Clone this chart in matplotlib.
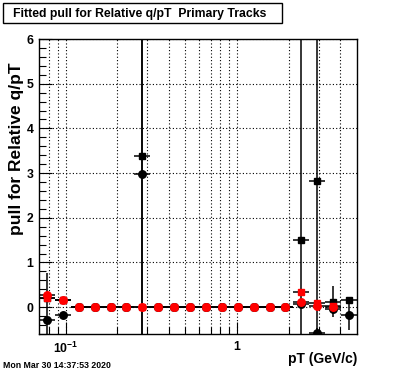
"""
Fitted pull for relative q/pT, primary tracks (ROOT-style canvas).
"""
import numpy as np
import matplotlib
matplotlib.use('Agg')
import matplotlib.pyplot as plt
from matplotlib.patches import Rectangle
from matplotlib.ticker import FixedLocator, FixedFormatter, NullFormatter, MultipleLocator

# log-spaced pT bin edges (GeV/c)
pt_edges = [0.0700, 0.0867, 0.1073, 0.1328, 0.1644, 0.2035, 0.2520, 0.3119,
            0.3862, 0.4780, 0.5918, 0.7326, 0.9066, 1.1223, 1.3894, 1.7200,
            2.1292, 2.6358, 3.2630, 4.0394, 5.0000]

# black squares
blk_sq = [0.20, 0.17, 0.00, 0.00, 0.00, 0.00, 3.39, 0.00, 0.00, 0.00,
          0.00, 0.00, 0.00, 0.00, 0.00, 0.00, 1.50, 2.83, 0.12, 0.17]
blk_sq_err = [0.05, 0.05, 0.02, 0.02, 0.02, 0.02, 20.0, 0.02, 0.02, 0.02,
              0.02, 0.02, 0.02, 0.02, 0.02, 0.03, 20.0, 20.0, 0.35, 0.05]
# black circles
blk_ci = [-0.28, -0.18, 0.00, 0.00, 0.00, 0.00, 2.98, 0.00, 0.00, 0.00,
          0.00, 0.00, 0.00, 0.00, 0.00, 0.00, 0.08, -0.57, -0.05, -0.17]
blk_ci_err = [1.04, 0.05, 0.02, 0.02, 0.02, 0.02, 5.0, 0.02, 0.02, 0.02,
              0.02, 0.02, 0.02, 0.02, 0.02, 0.03, 0.10, 0.10, 0.10, 0.35]
# red squares
red_sq = [0.21, 0.17, 0.00, 0.00, 0.00, 0.00, 0.00, 0.00, 0.00, 0.00,
          0.00, 0.00, 0.00, 0.00, 0.00, 0.00, 0.33, 0.10, 0.02, np.nan]
red_sq_err = [0.05, 0.05, 0.02, 0.02, 0.02, 0.02, 0.02, 0.02, 0.02, 0.02,
              0.02, 0.02, 0.02, 0.02, 0.02, 0.03, 0.05, 0.05, 0.05, 0.0]
# red circles
red_ci = [0.28, 0.17, 0.00, 0.00, 0.00, 0.00, 0.00, 0.00, 0.00, 0.00,
          0.00, 0.00, 0.00, 0.00, 0.00, 0.00, 0.11, 0.02, 0.00, np.nan]
red_ci_err = [0.05, 0.05, 0.02, 0.02, 0.02, 0.02, 0.02, 0.02, 0.02, 0.02,
              0.02, 0.02, 0.02, 0.02, 0.02, 0.03, 0.05, 0.05, 0.05, 0.0]

TITLE = 'Fitted pull for Relative q/pT  Primary Tracks'
DATESTAMP = 'Mon Mar 30 14:37:53 2020'
W, H = 396, 372  # canvas size in pixels


def main():
    plt.rcParams['font.family'] = ['Liberation Sans', 'DejaVu Sans']
    plt.rcParams['font.weight'] = 'bold'
    plt.rcParams['mathtext.fontset'] = 'custom'
    plt.rcParams['mathtext.rm'] = 'Liberation Sans:bold'
    plt.rcParams['mathtext.bf'] = 'Liberation Sans:bold'

    fig = plt.figure(figsize=(W / 100, H / 100), dpi=100)
    ax = fig.add_axes([39 / W, 38 / H, 318 / W, 295 / H])

    edges = np.array(pt_edges)
    centers = np.sqrt(edges[:-1] * edges[1:])
    xerr = [centers - edges[:-1], edges[1:] - centers]

    series = [
        (blk_sq, blk_sq_err, 's', 'black', 5.0),
        (blk_ci, blk_ci_err, 'o', 'black', 5.4),
        (red_sq, red_sq_err, 's', 'red', 5.0),
        (red_ci, red_ci_err, 'o', 'red', 5.4),
    ]
    for i, (y, yerr, marker, color, ms) in enumerate(series):
        ax.errorbar(
            centers, y, xerr=xerr, yerr=yerr,
            fmt=marker, color=color, mec=color, ms=ms,
            ecolor='black', elinewidth=1.1, capsize=0, zorder=3 + i,
        )

    ax.set_xscale('log')
    ax.set_xlim(0.07, 5.0)
    ax.set_ylim(-0.6, 6.0)

    ax.xaxis.set_major_locator(FixedLocator([0.1, 1.0]))
    ax.xaxis.set_major_formatter(FixedFormatter([r'$10^{-1}$', '1']))
    ax.xaxis.set_minor_locator(FixedLocator(
        [0.08, 0.09, 0.2, 0.3, 0.4, 0.5, 0.6, 0.7, 0.8, 0.9, 2, 3, 4]))
    ax.xaxis.set_minor_formatter(NullFormatter())
    ax.yaxis.set_major_locator(MultipleLocator(1))
    ax.yaxis.set_minor_locator(MultipleLocator(0.2))

    ax.tick_params(which='both', direction='in', top=False, right=False,
                   labelsize=8.8, width=0.8)
    ax.tick_params(which='major', length=9)
    ax.tick_params(which='minor', length=5)
    ax.tick_params(axis='x', which='major', pad=5)
    ax.tick_params(axis='y', which='major', pad=4)
    for lab in ax.get_xticklabels() + ax.get_yticklabels():
        lab.set_fontweight('bold')

    grid_kw = dict(color='black', linestyle=(0, (1, 2)), linewidth=0.8)
    ax.grid(True, which='major', axis='both', **grid_kw)
    ax.grid(True, which='minor', axis='x', **grid_kw)
    ax.set_axisbelow(True)
    for spine in ax.spines.values():
        spine.set_linewidth(1.0)

    ax.set_ylabel('pull for Relative q/pT', fontsize=12.5, fontweight='bold')
    ax.yaxis.set_label_coords(-0.046, 0.627)
    ax.set_xlabel('pT (GeV/c)', fontsize=10, fontweight='bold')
    ax.xaxis.set_label_coords(1.0, -0.06)
    ax.xaxis.label.set_horizontalalignment('right')

    # title box
    fig.patches.append(Rectangle((3 / W, 1 - 23 / H), 279 / W, 20 / H,
                                 transform=fig.transFigure, fc='white',
                                 ec='black', lw=1.0))
    fig.text(13 / W, 1 - 13.5 / H, TITLE, fontsize=8.8, fontweight='bold',
             ha='left', va='center')
    fig.text(3 / W, 2 / H, DATESTAMP, fontsize=6.3, fontweight='bold',
             ha='left', va='bottom')

    fig.savefig('out.png', dpi=100)
    plt.close(fig)


if __name__ == '__main__':
    main()
